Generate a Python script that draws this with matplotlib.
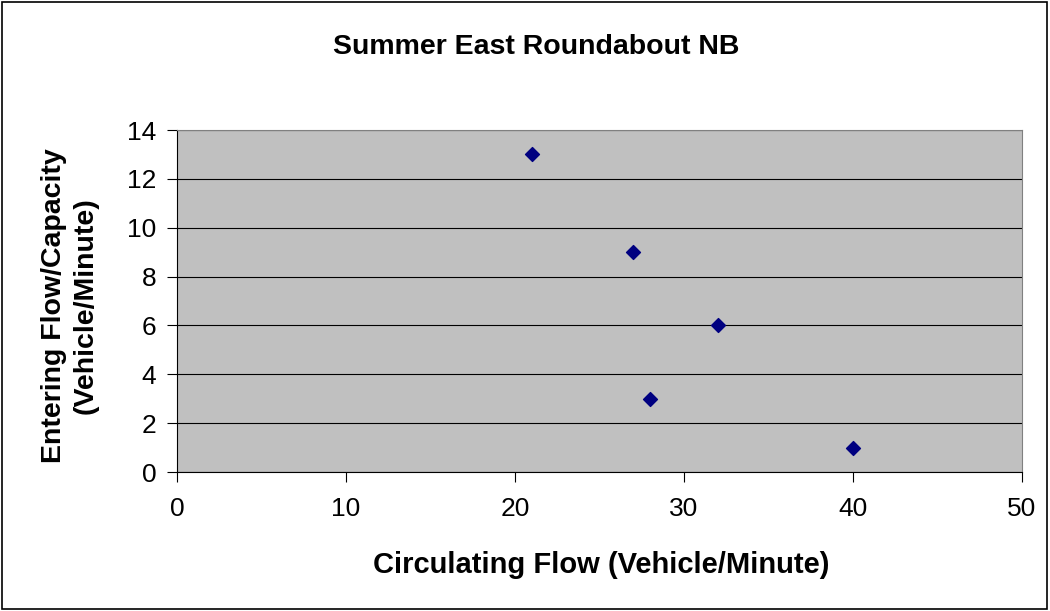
import matplotlib.pyplot as plt
from matplotlib.patches import Rectangle

plt.rcParams['font.family'] = ['Liberation Sans', 'DejaVu Sans']

# data
circulating = [21, 27, 32, 28, 40]
entering = [13, 9, 6, 3, 1]

fig = plt.figure(figsize=(10.5, 6.11), dpi=100)
ax = fig.add_axes([177/1050, 1 - 472/611, (1022 - 177)/1050, (472 - 130)/611])
ax.set_facecolor('#c0c0c0')

ax.scatter(circulating, entering, marker='D', s=50, color='#000080', zorder=3)

ax.set_xlim(0, 50)
ax.set_ylim(0, 14)
ax.set_xticks(range(0, 51, 10))
ax.set_yticks(range(0, 15, 2))
ax.yaxis.grid(True, color='black', linewidth=0.8)
ax.set_axisbelow(True)
for s in ax.spines.values():
    s.set_color('#808080')
ax.spines['left'].set_color('black')
ax.spines['bottom'].set_color('black')
ax.tick_params(axis='both', labelsize=19, direction='out', length=7, color='black')
ax.tick_params(axis='x', pad=11)
ax.tick_params(axis='y', pad=8)

fig.text(536/1050, 1 - 47/611, 'Summer East Roundabout NB', ha='center', va='center',
         fontsize=20.5, fontweight='bold')
fig.text(601/1050, 1 - 565/611, 'Circulating Flow (Vehicle/Minute)', ha='center', va='center',
         fontsize=21, fontweight='bold')
fig.text(70/1050, 1 - 306/611, 'Entering Flow/Capacity\n(Vehicle/Minute)', ha='center',
         va='center', rotation=90, fontsize=20.5, fontweight='bold', linespacing=1.25)

# outer chart border
fig.patches.append(Rectangle((0.002, 0.003), 0.995, 0.994, transform=fig.transFigure,
                             fill=False, edgecolor='black', linewidth=1.2))

fig.savefig('out.png', dpi=100)
